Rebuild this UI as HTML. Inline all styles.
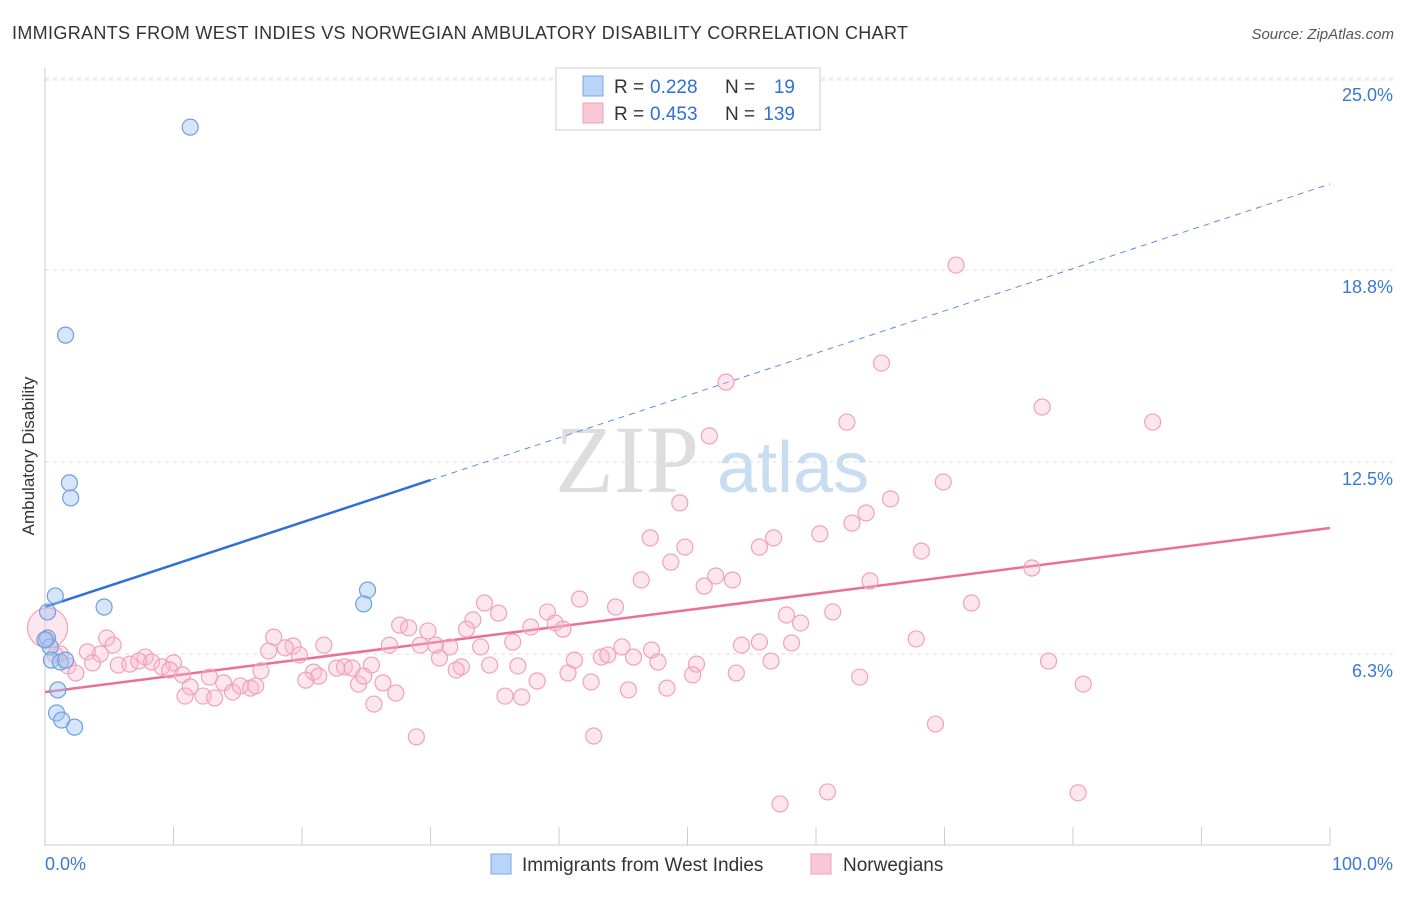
<!DOCTYPE html>
<html><head><meta charset="utf-8"><style>
body{margin:0;background:#fff;font-family:"Liberation Sans",sans-serif}
</style></head><body>
<svg id="chart" width="1406" height="892" xmlns="http://www.w3.org/2000/svg" font-family="Liberation Sans, sans-serif">
<text x="12" y="39" font-size="18" fill="#333" textLength="896">IMMIGRANTS FROM WEST INDIES VS NORWEGIAN AMBULATORY DISABILITY CORRELATION CHART</text>
<text x="1394" y="39" font-size="15" fill="#555" font-style="italic" text-anchor="end">Source: ZipAtlas.com</text>
<text x="555" y="492" font-size="96" fill="#ddd" font-family="Liberation Serif, serif">ZIP</text>
<text x="717" y="492" font-size="72" fill="#c8dcf2">atlas</text>
<g id="grid"></g><g id="axes"></g>
<text transform="translate(34,456) rotate(-90)" font-size="17" fill="#333" text-anchor="middle">Ambulatory Disability</text>
<g id="lines"></g><g id="points"></g>
<g>
<rect x="556" y="68" width="264" height="62" fill="#fff" stroke="#ccc"/>
<rect x="583" y="76" width="20" height="20" fill="#b8d4f6" stroke="#7aa8e6"/>
<rect x="583" y="103" width="20" height="20" fill="#f9c8d6" stroke="#eea0b8"/>
<text x="614" y="93" font-size="19" fill="#333">R =</text>
<text x="650" y="93" font-size="19" fill="#2f6fd6">0.228</text>
<text x="725" y="93" font-size="19" fill="#333">N =</text>
<text x="795" y="93" font-size="19" fill="#2f6fd6" text-anchor="end">19</text>
<text x="614" y="120" font-size="19" fill="#333">R =</text>
<text x="650" y="120" font-size="19" fill="#2f6fd6">0.453</text>
<text x="725" y="120" font-size="19" fill="#333">N =</text>
<text x="795" y="120" font-size="19" fill="#2f6fd6" text-anchor="end">139</text>
</g>
<g>
<rect x="491" y="854" width="20" height="20" fill="#b8d4f6" stroke="#7aa8e6"/>
<text x="522" y="871" font-size="19" fill="#333">Immigrants from West Indies</text>
<rect x="811" y="854" width="20" height="20" fill="#f9c8d6" stroke="#eea0b8"/>
<text x="843" y="871" font-size="19" fill="#333">Norwegians</text>
</g>
</svg>
<script>
const yTicks=[6.25,12.5,18.75,25];
const yTickLabels=["6.3%","12.5%","18.8%","25.0%"];
const xTickLabels=["0.0%","100.0%"];
const blueX=[11.3,1.6,1.9,2.0,0.8,4.6,25.1,24.8,0.2,0.2,0.4,0.5,1.2,1.6,1.0,0.9,1.3,2.3,0];
const blueY=[23.40,16.63,11.82,11.33,8.14,7.78,8.33,7.88,7.62,6.77,6.48,6.05,5.99,6.05,5.08,4.33,4.10,3.87,6.71];
const pinkX=[70.9,65.1,53.0,77.6,62.4,86.2,51.7,69.9,49.4,65.8,63.9,62.8,60.3,47.1,56.7,49.8,55.6,68.2,48.7,52.2,53.5,46.4,64.2,51.3,41.6,34.2,44.4,39.1,35.3,72.1,76.8,57.7,61.3,27.6,28.3,33.3,29.8,37.8,39.7,40.3,32.8,58.8,17.8,19.3,21.7,26.8,29.2,30.4,31.5,33.9,36.4,44.9,47.2,54.2,55.6,58.1,67.8,4.8,5.3,3.3,4.3,7.8,10.0,17.4,19.8,1.2,1.8,2.4,3.7,5.7,6.6,7.3,8.3,9.1,9.7,10.7,12.8,16.8,18.7,20.9,21.3,22.7,23.3,23.9,25.4,30.7,32.4,32.0,34.6,36.8,41.2,43.3,43.8,45.8,47.7,50.7,56.5,78.1,11.3,10.9,12.3,13.2,13.9,14.6,15.2,16.0,16.4,20.3,24.4,26.3,24.8,27.3,25.6,35.8,37.1,38.3,40.7,42.5,45.4,48.4,50.4,53.8,63.4,80.8,28.9,42.7,69.3,57.2,60.9,80.4,0.8,0.1,0.2];
const pinkY=[18.91,15.72,15.10,14.29,13.80,13.80,13.35,11.85,11.17,11.30,10.84,10.51,10.16,10.03,10.03,9.73,9.73,9.60,9.24,8.79,8.66,8.66,8.63,8.46,8.04,7.91,7.78,7.62,7.58,7.91,9.05,7.52,7.62,7.19,7.10,7.36,7.00,7.13,7.26,7.06,7.06,7.26,6.80,6.51,6.54,6.54,6.54,6.54,6.48,6.48,6.64,6.48,6.38,6.54,6.64,6.61,6.74,6.77,6.54,6.32,6.25,6.15,5.96,6.35,6.22,6.25,5.86,5.63,5.96,5.89,5.92,6.02,5.99,5.83,5.73,5.57,5.50,5.70,6.45,5.66,5.53,5.79,5.83,5.79,5.89,6.12,5.83,5.73,5.89,5.86,6.05,6.15,6.22,6.15,5.99,5.92,6.02,6.02,5.18,4.88,4.88,4.82,5.31,5.01,5.21,5.14,5.21,5.40,5.27,5.31,5.53,4.98,4.62,4.88,4.85,5.37,5.63,5.34,5.08,5.14,5.57,5.63,5.50,5.27,3.55,3.58,3.97,1.37,1.76,1.73,6.22,6.71,7.10];
const blueFit=[7.78,0.1377];const blueSolidEnd=30;
const pinkFit=[5.01,0.0534];
const NS="http://www.w3.org/2000/svg";
const X=v=>45+v*12.85, Y=v=>846-v*30.72;
function mk(tag,attrs,parent){const e=document.createElementNS(NS,tag);for(const k in attrs)e.setAttribute(k,attrs[k]);document.getElementById(parent).appendChild(e);return e;}
yTicks.forEach((t,i)=>{
 const g=mk('line',{x1:45,x2:1393,y1:Y(t),y2:Y(t),stroke:'#ddd','stroke-dasharray':'4,4'},'grid');
 
 
 const l=mk('text',{x:1393,y:Y(t)+23,'font-size':18,fill:'#3a78d8','text-anchor':'end'},'grid');l.textContent=yTickLabels[i];
 
 
});
const topGrid=mk('line',{x1:45,x2:1393,y1:80,y2:80,stroke:'#ddd','stroke-dasharray':'4,4'},'grid');


mk('line',{x1:45,x2:45,y1:68,y2:846,stroke:'#ccc'},'axes');
mk('line',{x1:45,x2:1330,y1:845,y2:845,stroke:'#ccc'},'axes');
for(let i=0;i<=10;i++){const t=mk('line',{x1:X(i*10),x2:X(i*10),y1:827,y2:845,stroke:'#ccc'},'axes');
 
 }
[[0,'start',45],[100,'end',1393]].forEach((d,i)=>{const t=mk('text',{x:d[2],y:870,'font-size':18,fill:'#3a78d8','text-anchor':d[1]},'axes');t.textContent=xTickLabels[i];
 
 });
const bl=mk('line',{x1:X(0),y1:Y(blueFit[0]),x2:X(blueSolidEnd),y2:Y(blueFit[0]+blueFit[1]*blueSolidEnd),stroke:'#2f6fd6','stroke-width':2.5},'lines');


const bd=mk('line',{x1:X(blueSolidEnd),y1:Y(blueFit[0]+blueFit[1]*blueSolidEnd),x2:X(100),y2:Y(blueFit[0]+blueFit[1]*100),stroke:'#5a8fe0','stroke-width':1,'stroke-dasharray':'6,5'},'lines');


const pl=mk('line',{x1:X(0),y1:Y(pinkFit[0]),x2:X(100),y2:Y(pinkFit[0]+pinkFit[1]*100),stroke:'#e8709a','stroke-width':2.5},'lines');


pinkX.forEach((x,i)=>{const c=mk('circle',{cx:X(x),cy:Y(pinkY[i]),r:i==pinkX.length-1?20:8,fill:'rgba(248,182,202,0.35)',stroke:'#f0a2bb','stroke-width':1.2},'points');
 
 });
blueX.forEach((x,i)=>{const c=mk('circle',{cx:X(x),cy:Y(blueY[i]),r:8,fill:'rgba(165,198,242,0.45)',stroke:'#6d9fe0','stroke-width':1.2},'points');
 
 });
</script>
</body></html>
